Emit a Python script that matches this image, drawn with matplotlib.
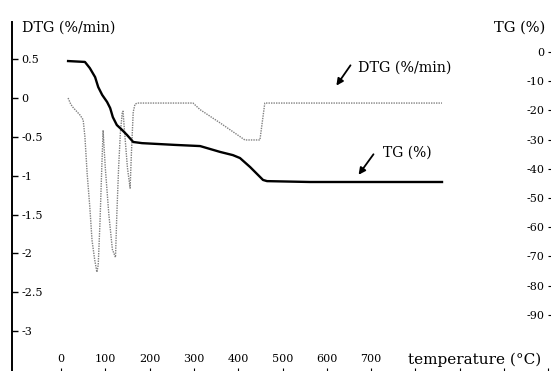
import matplotlib
matplotlib.use("Agg")
import matplotlib.pyplot as plt

plt.rcParams['font.family'] = ['DejaVu Serif']
plt.rcParams['axes.unicode_minus'] = False

# DTG curve (%/min) vs temperature (°C)
dtg_temp = [16, 22, 27, 35, 43, 50, 54, 59, 65, 70, 76, 81, 84, 88, 92, 95,
            100, 108, 116, 123, 126, 130, 134, 138, 140, 143, 150, 156, 159,
            163, 167, 172, 298, 314, 359, 415, 449, 460, 860]
dtg_vals = [0.0, -0.08, -0.12, -0.17, -0.22, -0.28, -0.5, -0.97, -1.4, -1.83,
            -2.08, -2.24, -2.15, -1.6, -0.9, -0.42, -0.9, -1.5, -1.95, -2.05,
            -1.5, -0.9, -0.45, -0.2, -0.17, -0.4, -0.9, -1.16, -0.7, -0.18,
            -0.08, -0.065, -0.065, -0.15, -0.32, -0.54, -0.54, -0.065, -0.065]

# TG curve (%) vs temperature (°C)
tg_temp = [16, 54, 65, 77, 84, 93, 104, 111, 117, 126, 138, 149, 163, 183,
           257, 314, 359, 388, 404, 427, 456, 465, 562, 860]
tg_vals = [-3.1, -3.4, -5.5, -8.6, -12.0, -14.7, -17.1, -19.2, -22.3, -25.0,
           -26.7, -28.4, -30.8, -31.2, -31.8, -32.2, -34.2, -35.3, -36.3,
           -39.4, -43.8, -44.2, -44.5, -44.5]

x_ticks = list(range(0, 1200, 100))
x_labels = [str(t) if t <= 700 else '' for t in x_ticks]
dtg_ticks = [0.5, 0, -0.5, -1, -1.5, -2, -2.5, -3]
dtg_labels = ['0.5', '0', '-0.5', '-1', '-1.5', '-2', '-2.5', '-3']
tg_ticks = [0, -10, -20, -30, -40, -50, -60, -70, -80, -90]

W, H = 551, 371
fig = plt.figure(figsize=(W / 100, H / 100), dpi=100)
ax = fig.add_axes([12 / W, 0, (W - 12) / W, (H - 22) / H])
ax.set_facecolor('none')

ax.plot(dtg_temp, dtg_vals, color='0.5', lw=1.0, linestyle=(0, (1, 0.8)))
ax.set_xlim(-110.6, 1106)
ax.set_ylim(-3.513, 0.978)

for s in ['top', 'right', 'bottom']:
    ax.spines[s].set_visible(False)
ax.spines['left'].set_linewidth(1.4)

ax.set_yticks(dtg_ticks, dtg_labels)
ax.tick_params(axis='y', direction='in', length=4, width=1, pad=-7, labelsize=8)
for lab in ax.get_yticklabels():
    lab.set_horizontalalignment('left')

ax.set_xticks(x_ticks, x_labels)
ax.tick_params(axis='x', direction='in', length=2, width=0.8, pad=-12, labelsize=8)

tw = ax.twinx()
tw.plot(tg_temp, tg_vals, color='black', lw=1.7)
tw.set_ylim(-109.2, 10.27)
for s in tw.spines.values():
    s.set_visible(False)
tw.set_yticks(tg_ticks, [str(t) for t in tg_ticks])
tw.tick_params(axis='y', direction='in', length=2, width=0.8, pad=-5, labelsize=8)
for lab in tw.get_yticklabels():
    lab.set_horizontalalignment('right')

# annotations
ax.annotate('', xy=(618, 0.13), xytext=(657, 0.45),
            arrowprops=dict(arrowstyle='-|>', color='black', lw=1.3,
                            mutation_scale=10))
ax.text(670, 0.39, 'DTG (%/min)', fontsize=10.3, va='center', ha='left')
ax.annotate('', xy=(668, -1.017), xytext=(709, -0.695),
            arrowprops=dict(arrowstyle='-|>', color='black', lw=1.3,
                            mutation_scale=10))
ax.text(727, -0.708, 'TG (%)', fontsize=10, va='center', ha='left')

fig.text(22 / W, 1 - 28 / H, 'DTG (%/min)', fontsize=10.3, va='center', ha='left')
fig.text(545 / W, 1 - 28 / H, 'TG (%)', fontsize=10.5, va='center', ha='right')
fig.text(408 / W, 1 - 360 / H, 'temperature (°C)', fontsize=11, va='center', ha='left')

fig.savefig('out.png', dpi=100)
